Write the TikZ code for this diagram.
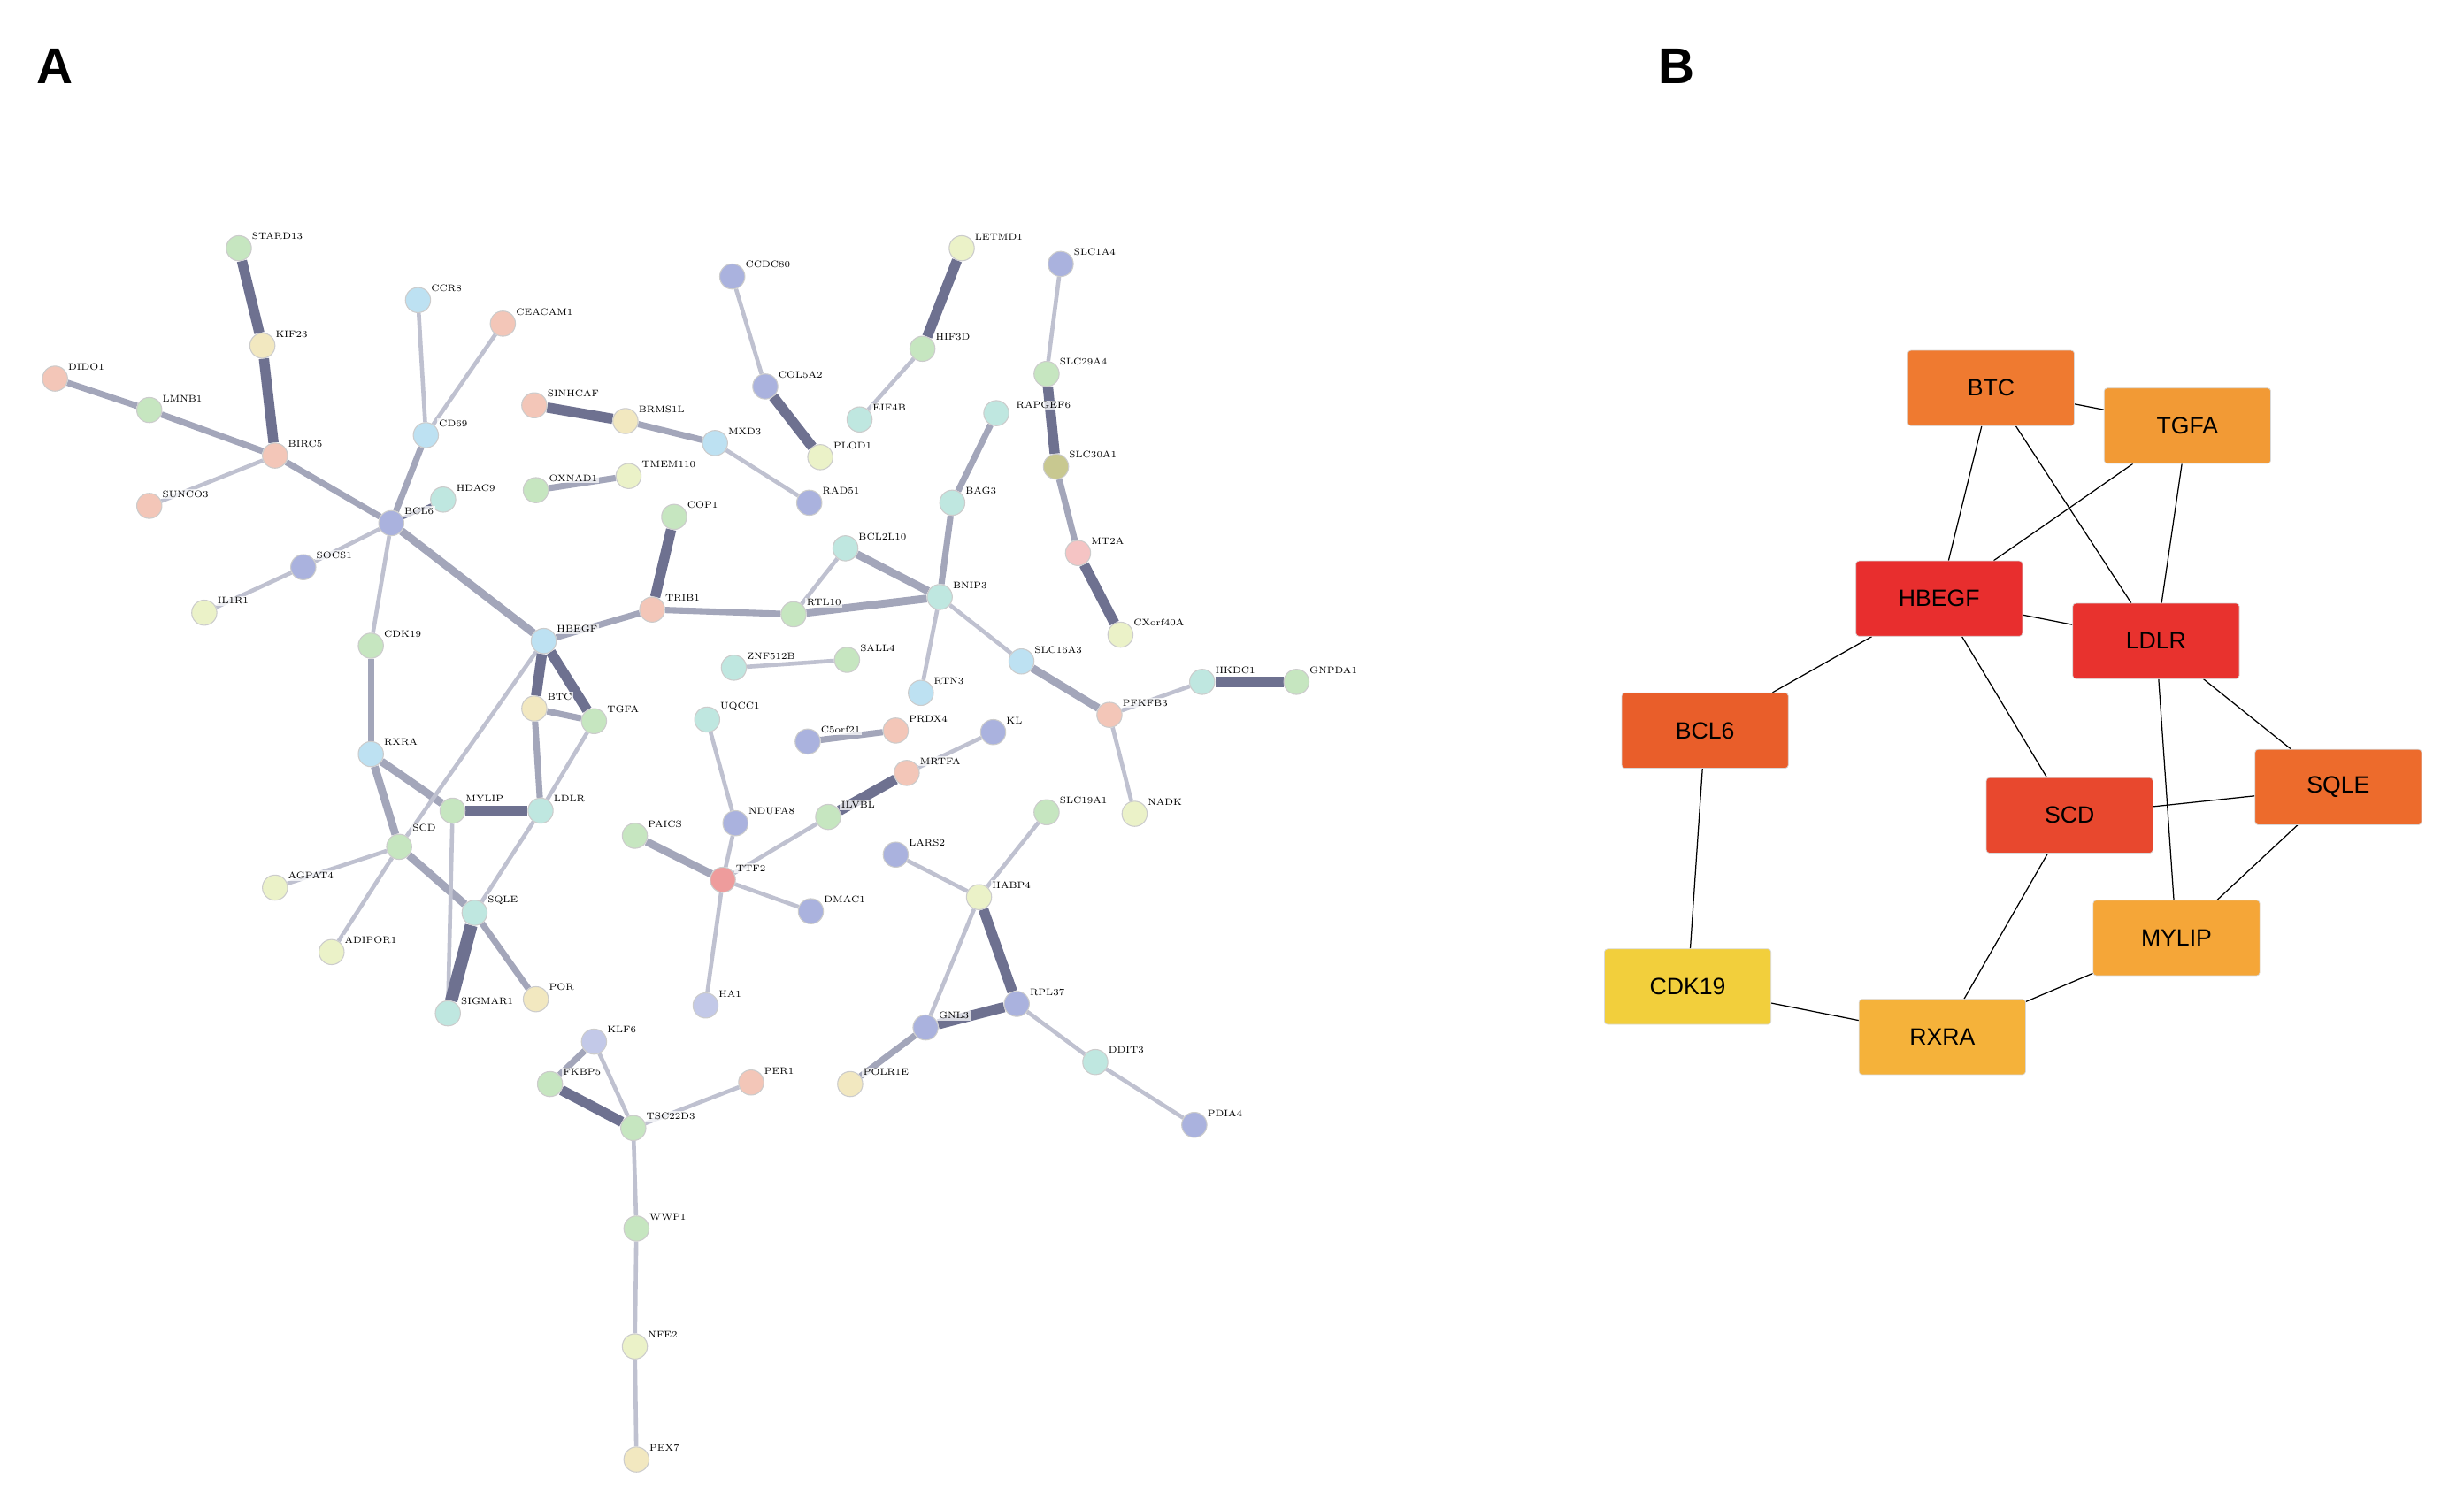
\documentclass[tikz,border=0pt]{standalone}
\usepackage{fontspec}
\setsansfont{Liberation Sans}
\usetikzlibrary{backgrounds}
\definecolor{cg}{HTML}{C6E6C0}
\definecolor{cp}{HTML}{F3C6B8}
\definecolor{cy}{HTML}{F2E8C0}
\definecolor{cb}{HTML}{AAB2DE}
\definecolor{cc}{HTML}{BDE1F2}
\definecolor{ct}{HTML}{BFE7E0}
\definecolor{cl}{HTML}{EBF2C8}
\definecolor{cr}{HTML}{EE9C9C}
\definecolor{co}{HTML}{C8C890}
\definecolor{eA}{HTML}{BFC1D0}
\definecolor{eB}{HTML}{A3A6BA}
\definecolor{eC}{HTML}{6E7190}
\tikzset{
 gnode/.style={circle,minimum size=16pt,inner sep=0pt,draw=gray!40,line width=0.6pt},
 glab/.style={font=\fontsize{6}{6}\selectfont,inner sep=1pt,label distance=0pt,fill=white,fill opacity=0.75,text opacity=1},
 ea/.style={eA,line width=2.6pt},
 eb/.style={eB,line width=4pt},
 ec/.style={eC,line width=6.5pt},
 bbox/.style={rounded corners=2pt,minimum width=106pt,minimum height=48pt,font=\sffamily\fontsize{15}{15}\selectfont,draw=black!15},
 bedge/.style={black,line width=0.7pt}
}
\newcommand\gn[5]{\node[gnode,fill=#4,label={[glab]30:#5}] (#1) at (#2,#3) {};}
\begin{document}
\begin{tikzpicture}[x=1pt,y=-1pt]
\useasboundingbox (0,0) rectangle (1568,960);
\node[font=\sffamily\bfseries\fontsize{32}{32}\selectfont] (lA) at (35,42) {A};
\node[font=\sffamily\bfseries\fontsize{32}{32}\selectfont] (lB) at (1067,42) {B};
% panel A nodes
\gn{STARD13}{152}{158}{cg}{STARD13}
\gn{KIF23}{167}{220}{cy}{KIF23}
\gn{DIDO1}{35}{241}{cp}{DIDO1}
\gn{LMNB1}{95}{261}{cg}{LMNB1}
\gn{BIRC5}{175}{290}{cp}{BIRC5}
\gn{SUNCO3}{95}{322}{cp}{SUNCO3}
\gn{CCR8}{266}{191}{cc}{CCR8}
\gn{CEACAM1}{320}{206}{cp}{CEACAM1}
\gn{CD69}{271}{277}{cc}{CD69}
\gn{SINHCAF}{340}{258}{cp}{SINHCAF}
\gn{BRMS1L}{398}{268}{cy}{BRMS1L}
\gn{MXD3}{455}{282}{cc}{MXD3}
\gn{OXNAD1}{341}{312}{cg}{OXNAD1}
\gn{TMEM110}{400}{303}{cl}{TMEM110}
\gn{HDAC9}{282}{318}{ct}{HDAC9}
\gn{BCL6}{249}{333}{cb}{BCL6}
\gn{SOCS1}{193}{361}{cb}{SOCS1}
\gn{IL1R1}{130}{390}{cl}{IL1R1}
\gn{CDK19}{236}{411}{cg}{CDK19}
\gn{HBEGF}{346}{408}{cc}{HBEGF}
\gn{TRIB1}{415}{388}{cp}{TRIB1}
\gn{COP1}{429}{329}{cg}{COP1}
\gn{RTL10}{505}{391}{cg}{RTL10}
\gn{BCL2L10}{538}{349}{ct}{BCL2L10}
\gn{BNIP3}{598}{380}{ct}{BNIP3}
\gn{BAG3}{606}{320}{ct}{BAG3}
\gn{RAPGEF6}{634}{263}{ct}{}
\node[glab] (lRAP) at (664,258) {RAPGEF6};
\gn{CCDC80}{466}{176}{cb}{CCDC80}
\gn{COL5A2}{487}{246}{cb}{COL5A2}
\gn{EIF4B}{547}{267}{ct}{EIF4B}
\gn{PLOD1}{522}{291}{cl}{PLOD1}
\gn{RAD51}{515}{320}{cb}{RAD51}
\gn{LETMD1}{612}{158}{cl}{LETMD1}
\gn{HIF3D}{587}{222}{cg}{HIF3D}
\gn{SLC1A4}{675}{168}{cb}{SLC1A4}
\gn{SLC29A4}{666}{238}{cg}{SLC29A4}
\gn{SLC30A1}{672}{297}{co}{SLC30A1}
\gn{MT2A}{686}{352}{cr!60}{MT2A}
\gn{CXorf40A}{713}{404}{cl}{CXorf40A}
\gn{SLC16A3}{650}{421}{cc}{SLC16A3}
\gn{PFKFB3}{706}{455}{cp}{PFKFB3}
\gn{HKDC1}{765}{434}{ct}{HKDC1}
\gn{GNPDA1}{825}{434}{cg}{GNPDA1}
\gn{NADK}{722}{518}{cl}{NADK}
\gn{SLC19A1}{666}{517}{cg}{SLC19A1}
\gn{RTN3}{586}{441}{cc}{RTN3}
\gn{C5orf21}{514}{472}{cb}{C5orf21}
\gn{PRDX4}{570}{465}{cp}{PRDX4}
\gn{KL}{632}{466}{cb}{KL}
\gn{MRTFA}{577}{492}{cp}{MRTFA}
\gn{ILVBL}{527}{520}{cg}{ILVBL}
\gn{NDUFA8}{468}{524}{cb}{NDUFA8}
\gn{ZNF512B}{467}{425}{ct}{ZNF512B}
\gn{SALL4}{539}{420}{cg}{SALL4}
\gn{UQCC1}{450}{458}{ct}{UQCC1}
\gn{PAICS}{404}{532}{cg}{PAICS}
\gn{TTF2}{460}{560}{cr}{TTF2}
\gn{DMAC1}{516}{580}{cb}{DMAC1}
\gn{HA1}{449}{640}{cb!70}{HA1}
\gn{LARS2}{570}{544}{cb}{LARS2}
\gn{HABP4}{623}{571}{cl}{HABP4}
\gn{GNL3}{589}{654}{cb}{GNL3}
\gn{RPL37}{647}{639}{cb}{RPL37}
\gn{POLR1E}{541}{690}{cy}{POLR1E}
\gn{DDIT3}{697}{676}{ct}{DDIT3}
\gn{PDIA4}{760}{716}{cb}{PDIA4}
\gn{RXRA}{236}{480}{cc}{RXRA}
\gn{SCD}{254}{539}{cg}{}
\node[glab] (lSCD) at (270,527) {SCD};
\gn{MYLIP}{288}{516}{cg}{MYLIP}
\gn{LDLR}{344}{516}{ct}{LDLR}
\gn{BTC}{340}{451}{cy}{BTC}
\gn{TGFA}{378}{459}{cg}{TGFA}
\gn{SQLE}{302}{581}{ct}{SQLE}
\gn{SIGMAR1}{285}{645}{ct}{SIGMAR1}
\gn{POR}{341}{636}{cy}{POR}
\gn{AGPAT4}{175}{565}{cl}{AGPAT4}
\gn{ADIPOR1}{211}{606}{cl}{ADIPOR1}
\gn{KLF6}{378}{663}{cb!70}{KLF6}
\gn{FKBP5}{350}{690}{cg}{FKBP5}
\gn{TSC22D3}{403}{718}{cg}{TSC22D3}
\gn{PER1}{478}{689}{cp}{PER1}
\gn{WWP1}{405}{782}{cg}{WWP1}
\gn{NFE2}{404}{857}{cl}{NFE2}
\gn{PEX7}{405}{929}{cy}{PEX7}
\begin{pgfonlayer}{background}
\draw[ec] (STARD13)--(KIF23); \draw[ec] (KIF23)--(BIRC5);
\draw[eb] (DIDO1)--(LMNB1); \draw[eb] (LMNB1)--(BIRC5);
\draw[ea] (SUNCO3)--(BIRC5); \draw[eb] (BIRC5)--(BCL6);
\draw[ea] (CCR8)--(CD69); \draw[ea] (CEACAM1)--(CD69);
\draw[eb] (CD69)--(BCL6); \draw[eC,line width=2pt] (BCL6)--(HDAC9);
\draw[ea] (BCL6)--(SOCS1); \draw[ea] (SOCS1)--(IL1R1);
\draw[ea] (BCL6)--(CDK19); \draw[eb,line width=5pt] (BCL6)--(HBEGF);
\draw[eb] (CDK19)--(RXRA); \draw[eb,line width=5pt] (RXRA)--(SCD);
\draw[eb,line width=5pt] (RXRA)--(MYLIP); \draw[eb,line width=5pt] (SCD)--(SQLE);
\draw[ea] (SCD)--(AGPAT4); \draw[ea] (SCD)--(ADIPOR1);
\draw[ea] (HBEGF)--(SCD); \draw[ec] (MYLIP)--(LDLR);
\draw[ea] (MYLIP)--(SIGMAR1); \draw[ea] (LDLR)--(SQLE);
\draw[eb] (LDLR)--(BTC); \draw[ea] (LDLR)--(TGFA);
\draw[ec] (HBEGF)--(BTC); \draw[ec] (HBEGF)--(TGFA); \draw[eb] (BTC)--(TGFA);
\draw[ec,line width=8pt] (SQLE)--(SIGMAR1); \draw[eb] (SQLE)--(POR);
\draw[eb] (HBEGF)--(TRIB1); \draw[ec] (TRIB1)--(COP1);
\draw[eb] (TRIB1)--(RTL10); \draw[eb,line width=5pt] (RTL10)--(BNIP3);
\draw[ea] (RTL10)--(BCL2L10); \draw[eb,line width=5pt] (BCL2L10)--(BNIP3);
\draw[eb] (BNIP3)--(BAG3); \draw[eb] (BAG3)--(RAPGEF6);
\draw[ea] (BNIP3)--(RTN3); \draw[ea] (BNIP3)--(SLC16A3);
\draw[eb,line width=5pt] (SLC16A3)--(PFKFB3); \draw[ea] (PFKFB3)--(HKDC1);
\draw[ec] (HKDC1)--(GNPDA1); \draw[ea] (PFKFB3)--(NADK);
\draw[ec] (SINHCAF)--(BRMS1L); \draw[eb] (BRMS1L)--(MXD3);
\draw[ea] (MXD3)--(RAD51); \draw[eb] (OXNAD1)--(TMEM110);
\draw[ea] (CCDC80)--(COL5A2); \draw[ec] (COL5A2)--(PLOD1);
\draw[ea] (EIF4B)--(HIF3D); \draw[ec] (HIF3D)--(LETMD1);
\draw[ea] (SLC1A4)--(SLC29A4); \draw[ec] (SLC29A4)--(SLC30A1);
\draw[eb] (SLC30A1)--(MT2A); \draw[ec] (MT2A)--(CXorf40A);
\draw[ea] (ZNF512B)--(SALL4); \draw[ea] (UQCC1)--(NDUFA8);
\draw[ea] (NDUFA8)--(TTF2); \draw[ea] (TTF2)--(ILVBL);
\draw[ec] (ILVBL)--(MRTFA); \draw[ea] (MRTFA)--(KL);
\draw[eb] (C5orf21)--(PRDX4); \draw[eb,line width=5pt] (PAICS)--(TTF2);
\draw[ea] (TTF2)--(DMAC1); \draw[ea] (TTF2)--(HA1);
\draw[ea] (LARS2)--(HABP4); \draw[ea] (SLC19A1)--(HABP4);
\draw[ec] (HABP4)--(RPL37); \draw[ea] (HABP4)--(GNL3);
\draw[ec] (GNL3)--(RPL37); \draw[eb] (GNL3)--(POLR1E);
\draw[ea] (RPL37)--(DDIT3); \draw[ea] (DDIT3)--(PDIA4);
\draw[eb] (KLF6)--(FKBP5); \draw[ea] (KLF6)--(TSC22D3);
\draw[ec] (FKBP5)--(TSC22D3); \draw[ea] (TSC22D3)--(PER1);
\draw[ea] (TSC22D3)--(WWP1); \draw[ea] (WWP1)--(NFE2); \draw[ea] (NFE2)--(PEX7);
\end{pgfonlayer}
% panel B
\node[bbox,fill={rgb,255:red,239;green,122;blue,48}] (bBTC) at (1267,247) {BTC};
\node[bbox,fill={rgb,255:red,242;green,154;blue,53}] (bTGFA) at (1392,271) {TGFA};
\node[bbox,fill={rgb,255:red,232;green,46;blue,46}] (bHBEGF) at (1234,381) {HBEGF};
\node[bbox,fill={rgb,255:red,232;green,50;blue,46}] (bLDLR) at (1372,408) {LDLR};
\node[bbox,fill={rgb,255:red,233;green,94;blue,42}] (bBCL6) at (1085,465) {BCL6};
\node[bbox,fill={rgb,255:red,232;green,72;blue,46}] (bSCD) at (1317,519) {SCD};
\node[bbox,fill={rgb,255:red,237;green,107;blue,44}] (bSQLE) at (1488,501) {SQLE};
\node[bbox,fill={rgb,255:red,242;green,207;blue,60}] (bCDK19) at (1074,628) {CDK19};
\node[bbox,fill={rgb,255:red,245;green,178;blue,58}] (bRXRA) at (1236,660) {RXRA};
\node[bbox,fill={rgb,255:red,245;green,166;blue,56}] (bMYLIP) at (1385,597) {MYLIP};
\begin{pgfonlayer}{background}
\foreach \a/\b in {bBTC/bTGFA,bBTC/bHBEGF,bBTC/bLDLR,bTGFA/bHBEGF,bTGFA/bLDLR,bHBEGF/bLDLR,bHBEGF/bBCL6,bHBEGF/bSCD,bLDLR/bSQLE,bLDLR/bMYLIP,bSCD/bSQLE,bSQLE/bMYLIP,bSCD/bRXRA,bMYLIP/bRXRA,bRXRA/bCDK19,bCDK19/bBCL6}
 \draw[bedge] (\a)--(\b);
\end{pgfonlayer}
\end{tikzpicture}
\end{document}
